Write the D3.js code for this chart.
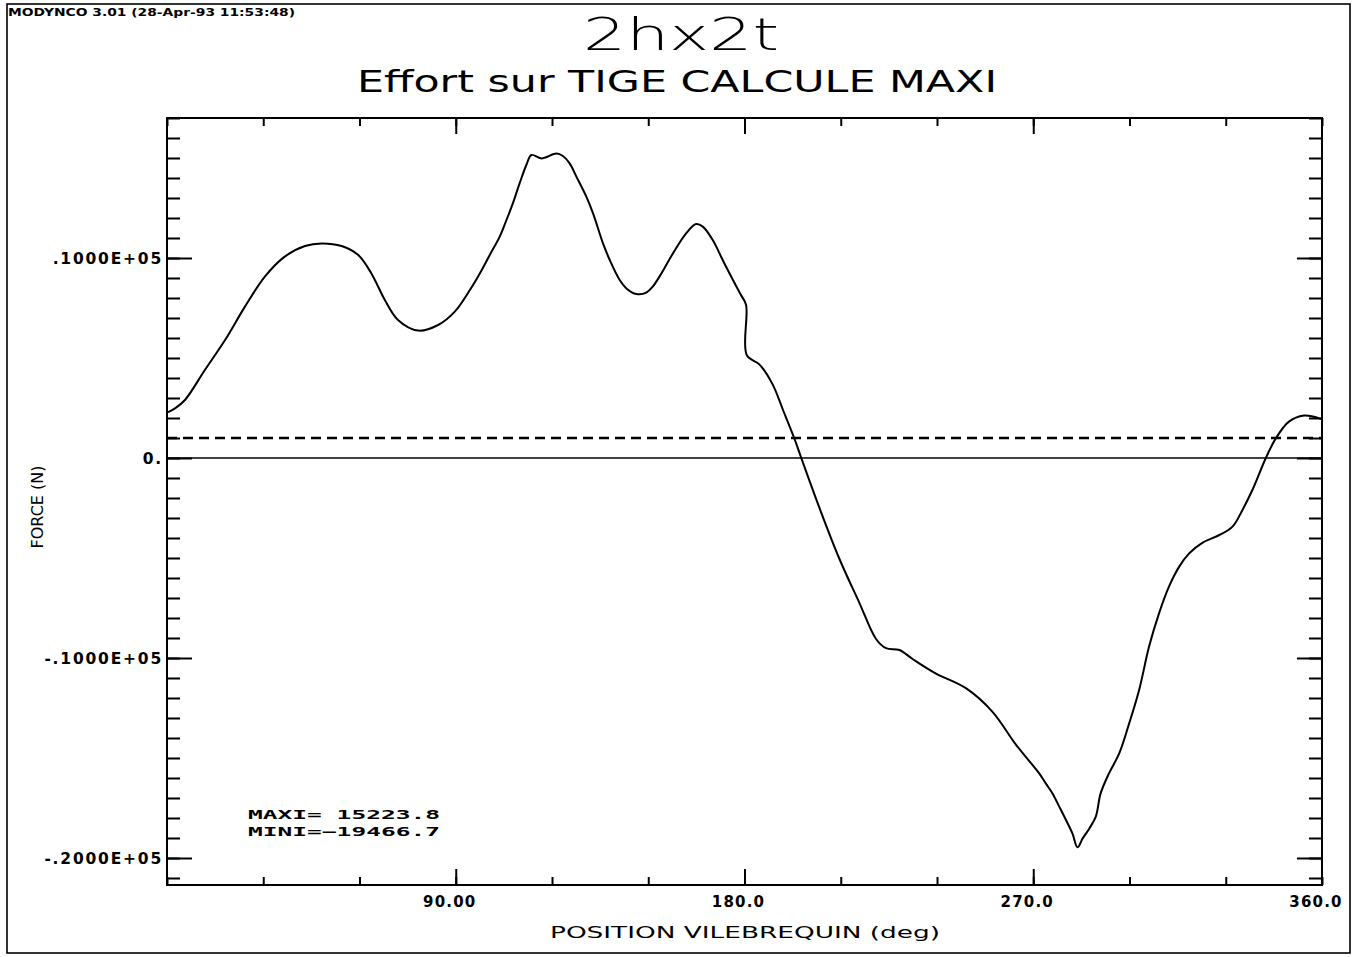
<!DOCTYPE html>
<html>
<head>
<meta charset="utf-8">
<script src="https://cdn.jsdelivr.net/npm/d3@7"></script>
<style>
  html, body { margin: 0; padding: 0; background: #fff; }
  svg { display: block; }
  text { fill: #000; }
</style>
</head>
<body>
<svg id="chart" width="1360" height="957"></svg>
<script>
// Crank angle (deg) and rod force (N) over one revolution
const angles = [
  0, 2.5, 5.6, 11.8, 18.1, 24.3, 30.5, 36.7, 43.0, 48.2, 54.4, 59.6, 63.7, 67.9, 72.0, 78.3, 84.5, 89.7,
  94.4, 97.5, 100.6, 103.7, 105.8, 107.8, 109.9, 112.0, 113.6, 116.7, 121.4, 123.4, 125.5, 127.6, 130.7,
  132.8, 135.9, 138.0, 141.1, 143.2, 146.3, 149.4, 151.4, 153.5, 157.7, 161.8, 164.9, 167.0, 170.1,
  173.2, 176.4, 178.9, 180.5, 180.7, 184.7, 188.8, 192.0, 195.6, 197.7, 203.4, 209.6, 215.8, 221.0,
  224.1, 228.3, 232.4, 239.7, 249.0, 257.3, 264.6, 271.9, 273.9, 276.0, 278.1, 280.2, 282.2, 283.8,
  285.4, 287.5, 289.5, 291.0, 293.6, 296.8, 299.9, 303.0, 306.1, 309.2, 312.3, 315.5, 318.6, 322.8,
  328.0, 332.1, 335.2, 338.3, 342.5, 345.6, 349.7, 354.4, 357.2, 360.0
];
const forces = [
  2270, 2480, 2900, 4400, 5900, 7570, 9070, 10070, 10600, 10730, 10600, 10150, 9230, 7900, 6900, 6370, 6650, 7320,
  8400, 9230, 10150, 11070, 11900, 12730, 13730, 14650, 15150, 14980, 15223.8, 15100, 14730, 14070, 13070,
  12230, 10730, 9900, 8900, 8480, 8200, 8270, 8570, 9070, 10230, 11230, 11700, 11570, 10900,
  9900, 8900, 8150, 7650, 5150, 4670, 3670, 2400, 950, 0, -2510, -5050, -7240, -9050,
  -9510, -9600, -10050, -10780, -11510, -12690, -14330, -15780, -16270, -16770, -17430, -18100, -18770, -19466.7,
  -19020, -18520, -17930, -16770, -15770, -14770, -13270, -11600, -9430, -7770, -6430, -5430, -4770, -4230,
  -3850, -3430, -2600, -1600, 0, 980, 1820, 2120, 2070, 1930
];

// Axis ticks and labels
const xMinorTicks = [0, 30, 60, 90, 120, 150, 180, 210, 240, 270, 300, 330, 360];
const xMajorTicks = [90, 180, 270];
const xLabelValues = [90, 180, 270, 360];
const xLabelText = ["90.00", "180.0", "270.0", "360.0"];
const yMinorTicks = d3.range(-21000, 17001, 1000);
const yMajorTicks = [-20000, -10000, 0, 10000];
const yLabelText = ["-.2000E+05", "-.1000E+05", "0.", ".1000E+05"];
const referenceLevel = 1000;

const headerText = "MODYNCO 3.01 (28-Apr-93   11:53:48)";
const titleText = "2hx2t";
const subtitleText = "Effort sur TIGE CALCULE MAXI";
const xTitleText = "POSITION VILEBREQUIN (deg)";
const yTitleText = "FORCE (N)";

const data = angles.map((a, i) => ({ a, f: forces[i] }));

const svg = d3.select("#chart");
const plot = { left: 167, right: 1322, top: 118, bottom: 885 };

const x = d3.scaleLinear().domain([0, 360]).range([plot.left, plot.right]);
const y = d3.scaleLinear().domain([-21350, 17000]).range([plot.bottom, plot.top]);

const FONT = "'DejaVu Sans', sans-serif";

// Page frame
svg.append("rect")
  .attr("x", 7).attr("y", 4).attr("width", 1343).attr("height", 949)
  .attr("fill", "none").attr("stroke", "#000").attr("stroke-width", 1.6);

// Header, title, subtitle
svg.append("text").attr("x", 8).attr("y", 16)
  .attr("font-family", FONT).attr("font-weight", "bold").attr("font-size", 10)
  .attr("textLength", 287).attr("lengthAdjust", "spacingAndGlyphs")
  .text(headerText);

svg.append("text").attr("x", 583).attr("y", 50)
  .attr("font-family", FONT).attr("font-weight", 200).attr("font-size", 44)
  .attr("textLength", 196).attr("lengthAdjust", "spacingAndGlyphs")
  .text(titleText);

svg.append("text").attr("x", 357).attr("y", 92)
  .attr("font-family", FONT).attr("font-size", 31)
  .attr("textLength", 640).attr("lengthAdjust", "spacingAndGlyphs")
  .text(subtitleText);

// Axes: ticks drawn inward on all four sides
const tickStyle = g => {
  g.select(".domain").remove();
  g.selectAll(".tick line").attr("stroke", "#000").attr("stroke-width", 2);
  g.selectAll(".tick text").remove();
};

svg.append("g").attr("transform", `translate(${plot.left},0)`)
  .call(d3.axisLeft(y).tickValues(yMinorTicks).tickSize(-13)).call(tickStyle);
svg.append("g").attr("transform", `translate(${plot.left},0)`)
  .call(d3.axisLeft(y).tickValues(yMajorTicks).tickSize(-25)).call(tickStyle);
svg.append("g").attr("transform", `translate(${plot.right},0)`)
  .call(d3.axisRight(y).tickValues(yMinorTicks).tickSize(-13)).call(tickStyle);
svg.append("g").attr("transform", `translate(${plot.right},0)`)
  .call(d3.axisRight(y).tickValues(yMajorTicks).tickSize(-25)).call(tickStyle);

svg.append("g").attr("transform", `translate(0,${plot.top})`)
  .call(d3.axisTop(x).tickValues(xMinorTicks).tickSize(-8)).call(tickStyle);
svg.append("g").attr("transform", `translate(0,${plot.top})`)
  .call(d3.axisTop(x).tickValues(xMajorTicks).tickSize(-16)).call(tickStyle);
svg.append("g").attr("transform", `translate(0,${plot.bottom})`)
  .call(d3.axisBottom(x).tickValues(xMinorTicks).tickSize(-8)).call(tickStyle);
svg.append("g").attr("transform", `translate(0,${plot.bottom})`)
  .call(d3.axisBottom(x).tickValues(xMajorTicks).tickSize(-16)).call(tickStyle);

// Plot border
svg.append("rect")
  .attr("x", plot.left).attr("y", plot.top)
  .attr("width", plot.right - plot.left).attr("height", plot.bottom - plot.top)
  .attr("fill", "none").attr("stroke", "#000").attr("stroke-width", 2);

// Tick labels
svg.append("g").selectAll("text").data(yMajorTicks).join("text")
  .attr("x", plot.left - 4).attr("y", d => y(d) + 6)
  .attr("text-anchor", "end")
  .attr("font-family", FONT).attr("font-weight", "bold").attr("font-size", 15.5)
  .attr("letter-spacing", 1.8)
  .text((d, i) => yLabelText[i]);

svg.append("g").selectAll("text").data(xLabelValues).join("text")
  .attr("x", d => x(d) - 6).attr("y", 907)
  .attr("text-anchor", "middle")
  .attr("font-family", FONT).attr("font-weight", "bold").attr("font-size", 15)
  .attr("letter-spacing", 1.2)
  .text((d, i) => xLabelText[i]);

// Axis titles
svg.append("text").attr("x", 745).attr("y", 938)
  .attr("text-anchor", "middle")
  .attr("font-family", FONT).attr("font-size", 16)
  .attr("textLength", 390).attr("lengthAdjust", "spacingAndGlyphs")
  .text(xTitleText);

svg.append("text")
  .attr("transform", "translate(43,507) rotate(-90)")
  .attr("text-anchor", "middle")
  .attr("font-family", FONT).attr("font-size", 15)
  .attr("textLength", 83).attr("lengthAdjust", "spacingAndGlyphs")
  .text(yTitleText);

// Zero line and reference level
svg.append("line")
  .attr("x1", plot.left).attr("x2", plot.right)
  .attr("y1", y(0)).attr("y2", y(0))
  .attr("stroke", "#000").attr("stroke-width", 1.6);

svg.append("line")
  .attr("x1", plot.left).attr("x2", plot.right)
  .attr("y1", y(referenceLevel)).attr("y2", y(referenceLevel))
  .attr("stroke", "#000").attr("stroke-width", 2.6)
  .attr("stroke-dasharray", "10,6");

// Force curve
const line = d3.line()
  .x(d => x(d.a))
  .y(d => y(d.f))
  .curve(d3.curveCatmullRom.alpha(0.5));

svg.append("path").datum(data)
  .attr("d", line)
  .attr("fill", "none")
  .attr("stroke", "#000")
  .attr("stroke-width", 2)
  .attr("stroke-linejoin", "round");

// Extremes
const fmt = d3.format(".1f");
const maxF = d3.max(forces), minF = d3.min(forces);
const extremesText = [
  "MAXI=" + (maxF < 0 ? "" : " ") + fmt(maxF),
  "MINI=" + (minF < 0 ? "" : " ") + fmt(minF)
];
svg.append("g").selectAll("text").data(extremesText).join("text")
  .attr("x", 248).attr("y", (d, i) => 819 + i * 17)
  .attr("font-family", "'DejaVu Sans Mono', monospace")
  .attr("font-weight", "bold").attr("font-size", 12)
  .attr("textLength", 192).attr("lengthAdjust", "spacingAndGlyphs")
  .attr("xml:space", "preserve")
  .style("white-space", "pre")
  .text(d => d);
</script>
</body>
</html>
